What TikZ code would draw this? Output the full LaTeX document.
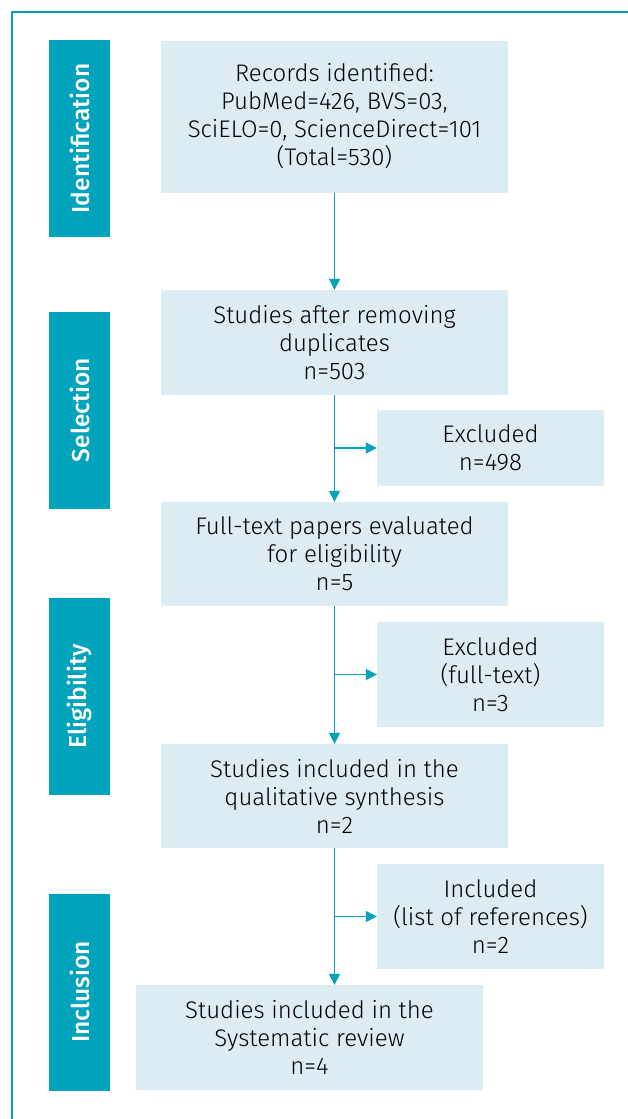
\documentclass[tikz,border=0pt]{standalone}
\usepackage{fontspec}
\setmainfont{Fira Sans}[UprightFont={* Light}, BoldFont={* Medium}]
\usetikzlibrary{arrows.meta}
\definecolor{tealmain}{HTML}{00A3BB}
\definecolor{boxfill}{HTML}{DBECF3}
\begin{document}
\begin{tikzpicture}[
  x=1pt,y=-1pt,
  box/.style={fill=boxfill, align=center, minimum width=347pt, inner sep=0pt, font=\fontsize{24}{28}\selectfont},
  sidebox/.style={box, minimum width=227pt},
  phase/.style={fill=tealmain, text=white, minimum width=197pt, minimum height=61pt, rotate=90, inner sep=0pt, font=\bfseries\fontsize{24.5}{26}\selectfont},
  arrow/.style={-{Triangle[length=11pt,width=11pt]}, tealmain, line width=1.2pt}
]
\useasboundingbox (0,0) rectangle (628,1119);
\draw[tealmain, line width=1.2pt] (12,1130) -- (12,12) -- (640,12);
% phases
\node[phase] (P1) at (79.5,138.5) {Identification};
\node[phase] (P2) at (79.5,410) {Selection};
\node[phase] (P3) at (79.5,696.5) {Eligibility};
\node[phase] (P4) at (79.5,992) {Inclusion};
% main column
\node[box, minimum height=152pt] (R) at (334.5,116.5) {Records identified:\\PubMed=426, BVS=03,\\SciELO=0, ScienceDirect=101\\(Total=530)};
\node[box, minimum height=105pt] (D) at (334.5,342.5) {Studies after removing\\duplicates\\n=503};
\node[box, minimum height=104pt] (F) at (334.5,554) {Full-text papers evaluated\\for eligibility\\n=5};
\node[box, minimum height=104pt] (Q) at (334.5,796) {Studies included in the\\qualitative synthesis\\n=2};
\node[box, minimum height=105pt] (S) at (309.5,1037.5) {Studies included in the\\Systematic review\\n=4};
% side boxes
\node[sidebox, minimum height=76pt] (E1) at (490.5,448) {Excluded\\n=498};
\node[sidebox, minimum height=105pt] (E2) at (490.5,674.5) {Excluded\\(full-text)\\n=3};
\node[sidebox, minimum height=105pt] (I) at (490.5,916.5) {Included\\(list of references)\\n=2};
% arrows
\draw[arrow] (R.south) -- (D.north);
\draw[arrow] (D.south) -- (F.north);
\draw[arrow] (F.south) -- (Q.north);
\draw[arrow] (Q.south) -- (Q.south |- S.north);
\draw[arrow] (D.south |- E1.west) -- (E1.west);
\draw[arrow] (F.south |- E2.west) -- (E2.west);
\draw[arrow] (Q.south |- I.west) -- (I.west);
\end{tikzpicture}
\end{document}
